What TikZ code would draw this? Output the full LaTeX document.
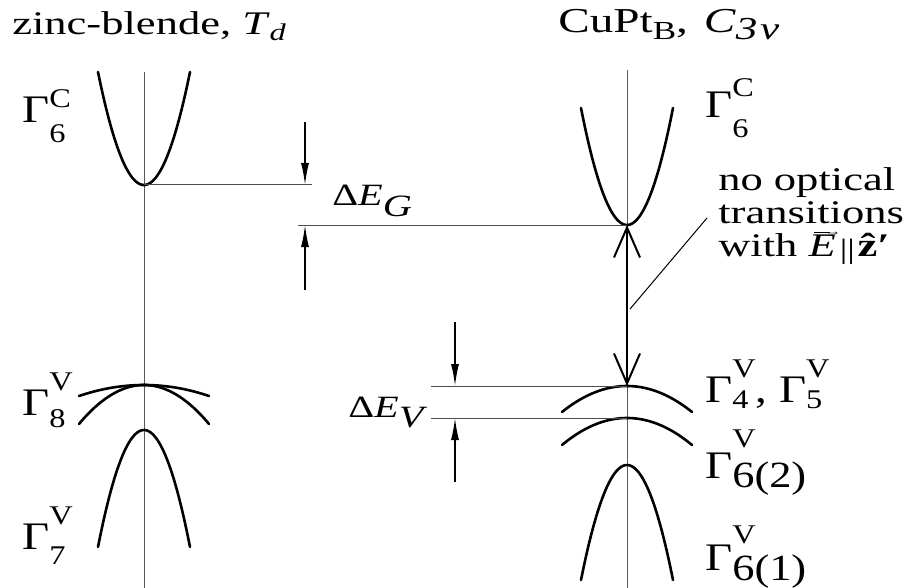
\documentclass[tikz,border=0pt]{standalone}
\usepackage{fontspec}
\setmainfont{Liberation Serif}
\usetikzlibrary{arrows.meta}
\newcommand\bigsz{\fontsize{39}{42}\selectfont}
\newcommand\smsz{\fontsize{27}{29}\selectfont}
% Gamma label: #1 sub, #2 sup, #3 drop, #4 raise
\newcommand\GamL[4]{Γ\rlap{\raisebox{-#3pt}{\smsz #1}}\raisebox{#4pt}{\smsz #2}}
\newcommand\vecE{\makebox[0pt][l]{\raisebox{21pt}{\fontsize{12}{12}\selectfont\hspace{4pt}\rule[2.4pt]{12pt}{0.8pt}\kern-4pt→}}\textit{E}}
\begin{document}
\begin{tikzpicture}[x=1pt,y=-1pt,
  txt/.style={inner sep=0pt,xscale=1.35,font=\fontsize{33}{33}\selectfont},
  head/.style={inner sep=0pt,xscale=1.35,font=\fontsize{33}{36}\selectfont},
  dlab/.style={inner sep=0pt,xscale=1.3,font=\fontsize{31}{34}\selectfont},
  glab/.style={inner sep=0pt,xscale=1.2,font=\bigsz},
  band/.style={line width=2.6pt,line cap=round},
  axisline/.style={line width=0.9pt,black!65},
  refline/.style={line width=1pt,black!70},
  dimarrow/.style={line width=1.5pt,-{Latex[length=22pt,width=8pt]}},
  transarrow/.style={line width=2.2pt,{Straight Barb[length=30pt,width=26pt,line width=2pt]}-{Straight Barb[length=30pt,width=26pt,line width=2pt]}}]
\useasboundingbox (0,0) rectangle (907,588);
% axes
\coordinate (axLt) at (144,72);  \coordinate (axLb) at (144,588);
\coordinate (axRt) at (627,70);  \coordinate (axRb) at (627,588);
\draw[axisline] (axLt) -- (axLb);
\draw[axisline] (axRt) -- (axRb);
% band extrema
\coordinate (cL) at (144,185);
\coordinate (cR) at (627,225);
\coordinate (v8) at (144,385);
\coordinate (v7) at (144,430);
\coordinate (v45) at (627,386);
\coordinate (v62) at (627,418);
\coordinate (v61) at (627,465);
% bands left
\draw[band] plot[domain=-46:46,samples=50,smooth] ({144+\x},{185-113*(\x/46)^2});
\draw[band] plot[domain=-65:65,samples=50,smooth] ({144+\x},{385+11*(\x/65)^2});
\draw[band] plot[domain=-65:65,samples=50,smooth] ({144+\x},{385+39*(\x/65)^2});
\draw[band] plot[domain=-46:46,samples=50,smooth] ({144+\x},{430+117*(\x/46)^2});
% bands right
\draw[band] plot[domain=-46:46,samples=50,smooth] ({627+\x},{225-117*(\x/46)^2});
\draw[band] plot[domain=-65:65,samples=50,smooth] ({627+\x},{386+26*(\x/65)^2});
\draw[band] plot[domain=-65:65,samples=50,smooth] ({627+\x},{418+27*(\x/65)^2});
\draw[band] plot[domain=-46:46,samples=50,smooth] ({627+\x},{465+115*(\x/46)^2});
% reference lines
\coordinate (gTopEnd) at (312,185);
\coordinate (gBotStart) at (298,225);
\coordinate (vTopStart) at (431,386);
\coordinate (vBotStart) at (431,418);
\draw[refline] (cL) -- (gTopEnd);
\draw[refline] (gBotStart) -- (cR);
\draw[refline] (vTopStart) -- (v45);
\draw[refline] (vBotStart) -- (v62);
% dimension arrows
\coordinate (gA1) at (305,122); \coordinate (gA1t) at (305,185);
\coordinate (gA2) at (305,290); \coordinate (gA2t) at (305,225);
\coordinate (vA1) at (455,322); \coordinate (vA1t) at (455,386);
\coordinate (vA2) at (455,482); \coordinate (vA2t) at (455,418);
\draw[dimarrow] (gA1) -- (gA1t);
\draw[dimarrow] (gA2) -- (gA2t);
\draw[dimarrow] (vA1) -- (vA1t);
\draw[dimarrow] (vA2) -- (vA2t);
% transition double arrow
\draw[transarrow] (v45) -- (cR);
% leader line
\coordinate (leadA) at (707,218);
\coordinate (leadB) at (630,309);
\draw[line width=1pt] (leadA) -- (leadB);
% headers
\node[head,anchor=base west] (h1) at (12,35) {zinc-blende, \textit{T}\raisebox{-6pt}{\fontsize{24}{24}\selectfont\textit{d}}};
\node[head,anchor=base west,font=\fontsize{35}{38}\selectfont] (h2) at (558,33) {CuPt\raisebox{-7pt}{\fontsize{26}{26}\selectfont B}, \hspace{3pt}\textit{C}\raisebox{-7pt}{\fontsize{32}{32}\selectfont\textit{3\kern2pt v}}};
% delta labels
\node[dlab,anchor=base west] (dEG) at (332,205) {Δ\textit{E}\raisebox{-11pt}{\textit{G}}};
\node[dlab,anchor=base west] (dEV) at (348,417) {Δ\textit{E}\raisebox{-10pt}{\textit{V}}};
% gamma labels
\node[glab,anchor=base west] (gL6c) at (22,123) {\GamL{6}{C}{20}{15}};
\node[glab,anchor=base west] (gR6c) at (705,118) {\GamL{6}{C}{20}{21}};
\node[glab,anchor=base west] (gL8) at (22,415) {\GamL{8}{V}{12}{25}};
\node[glab,anchor=base west] (gL7) at (22,549) {\GamL{7}{V}{15}{25}};
\node[glab,anchor=base west] (gR45) at (705,402) {\GamL{4}{V}{6}{25}, \GamL{5}{V}{6}{25}};
\node[glab,anchor=base west] (gR62) at (705,478) {Γ\rlap{\raisebox{31pt}{\smsz V}}\raisebox{-9pt}{\fontsize{37}{39}\selectfont 6(2)}};
\node[glab,anchor=base west] (gR61) at (705,570) {Γ\rlap{\raisebox{27pt}{\smsz V}}\raisebox{-10pt}{\fontsize{37}{39}\selectfont 6(1)}};
% note (one node, three lines)
\node[txt,anchor=north west,align=left] (note) at (718,167)
  {no optical\\transitions\\with \vecE\hspace{3pt}\raisebox{-2pt}{\fontsize{28}{28}\selectfont||}\hspace{2pt}\textbf{\^{z}′}};
\end{tikzpicture}
\end{document}
